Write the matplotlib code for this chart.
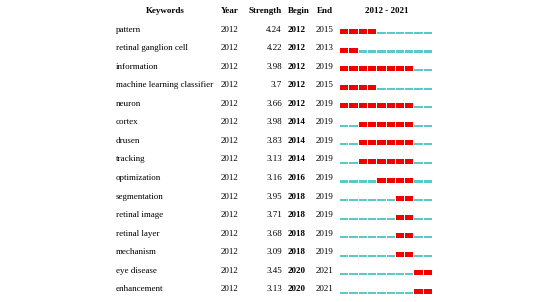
import matplotlib
matplotlib.use('Agg')
import matplotlib.pyplot as plt

keywords = ['pattern', 'retinal ganglion cell', 'information', 'machine learning classifier',
            'neuron', 'cortex', 'drusen', 'tracking', 'optimization', 'segmentation',
            'retinal image', 'retinal layer', 'mechanism', 'eye disease', 'enhancement']
year = [2012] * 15
strength = [4.24, 4.22, 3.98, 3.7, 3.66, 3.98, 3.83, 3.13, 3.16, 3.95, 3.71, 3.68, 3.09, 3.45, 3.13]
begin = [2012, 2012, 2012, 2012, 2012, 2014, 2014, 2014, 2016, 2018, 2018, 2018, 2018, 2020, 2020]
end = [2015, 2013, 2019, 2015, 2019, 2019, 2019, 2019, 2019, 2019, 2019, 2019, 2019, 2021, 2021]
first_year, last_year = 2012, 2021

plt.rcParams['font.family'] = ['Liberation Serif', 'DejaVu Serif']

fig = plt.figure(figsize=(5.46, 3.02), dpi=100)
ax = fig.add_axes([0, 0, 1, 1])
ax.set_xlim(0, 546)
ax.set_ylim(302, 0)
ax.axis('off')

fs = 6.5
red = '#f20000'
cyan = '#5cc9c9'

# layout (pixels)
y0, dy = 29.5, 18.57
bar_x0, yw = 340, 9.3

ax.text(165, 11, 'Keywords', ha='center', va='center', fontsize=fs, fontweight='bold')
ax.text(221, 11, 'Year', ha='left', va='center', fontsize=fs, fontweight='bold')
ax.text(282, 11, 'Strength', ha='right', va='center', fontsize=fs, fontweight='bold')
ax.text(288, 11, 'Begin', ha='left', va='center', fontsize=fs, fontweight='bold')
ax.text(317, 11, 'End', ha='left', va='center', fontsize=fs, fontweight='bold')
ax.text(bar_x0 + yw * (last_year - first_year + 1) / 2, 11, '%d - %d' % (first_year, last_year),
        ha='center', va='center', fontsize=fs, fontweight='bold')

for i, kw in enumerate(keywords):
    y = y0 + i * dy
    ax.text(116, y, kw, ha='left', va='center', fontsize=fs)
    ax.text(221, y, str(year[i]), ha='left', va='center', fontsize=fs)
    ax.text(282, y, '%g' % strength[i], ha='right', va='center', fontsize=fs)
    ax.text(288, y, str(begin[i]), ha='left', va='center', fontsize=fs, fontweight='bold')
    ax.text(316, y, str(end[i]), ha='left', va='center', fontsize=fs)
    for yr in range(first_year, last_year + 1):
        x = bar_x0 + (yr - first_year) * yw
        if begin[i] <= yr <= end[i]:
            ax.broken_barh([(x, yw - 1)], (y - 0.5, 5), facecolors=red)
        else:
            ax.broken_barh([(x, yw - 1)], (y + 2.3, 2.2), facecolors=cyan)

fig.savefig('out.png', dpi=100)
